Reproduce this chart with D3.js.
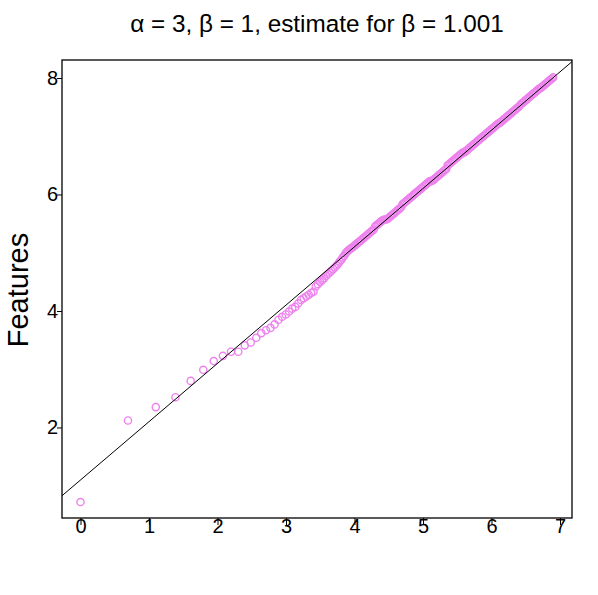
<!DOCTYPE html>
<html>
<head>
<meta charset="utf-8">
<script src="https://cdn.jsdelivr.net/npm/d3@7"></script>
<style>
  body { margin: 0; background: #fff; }
  text { font-family: "Liberation Sans", Arial, sans-serif; }
</style>
</head>
<body>
<div id="chart"></div>
<script>
// log(observations) on x, log(features) on y
const logObs = [
  0, 0.693, 1.099, 1.386, 1.609, 1.792, 1.946, 2.079, 2.197, 2.303,
  2.398, 2.485, 2.565, 2.639, 2.708, 2.773, 2.833, 2.890, 2.944, 2.996,
  3.045, 3.091, 3.135, 3.178, 3.219, 3.258, 3.296, 3.332, 3.367, 3.401,
  3.434, 3.466, 3.497, 3.526, 3.555, 3.584, 3.611, 3.638, 3.664, 3.689,
  3.714, 3.738, 3.761, 3.784, 3.807, 3.829, 3.850, 3.871, 3.892, 3.912,
  3.932, 3.951, 3.970, 3.989, 4.007,
  4.02, 4.04, 4.06, 4.08, 4.10, 4.12, 4.14, 4.16, 4.18, 4.20,
  4.22, 4.24, 4.26, 4.28, 4.30, 4.32, 4.34, 4.36, 4.38, 4.40,
  4.42, 4.44, 4.46, 4.48, 4.50, 4.52, 4.54, 4.56, 4.58, 4.60,
  4.62, 4.64, 4.66, 4.68, 4.70, 4.72, 4.74, 4.76, 4.78, 4.80,
  4.82, 4.84, 4.86, 4.88, 4.90, 4.92, 4.94, 4.96, 4.98, 5.00,
  5.02, 5.04, 5.06, 5.08, 5.10, 5.12, 5.14, 5.16, 5.18, 5.20,
  5.22, 5.24, 5.26, 5.28, 5.30, 5.32, 5.34, 5.36, 5.38, 5.40,
  5.42, 5.44, 5.46, 5.48, 5.50, 5.52, 5.54, 5.56, 5.58, 5.60,
  5.62, 5.64, 5.66, 5.68, 5.70, 5.72, 5.74, 5.76, 5.78, 5.80,
  5.82, 5.84, 5.86, 5.88, 5.90, 5.92, 5.94, 5.96, 5.98, 6.00,
  6.02, 6.04, 6.06, 6.08, 6.10, 6.12, 6.14, 6.16, 6.18, 6.20,
  6.22, 6.24, 6.26, 6.28, 6.30, 6.32, 6.34, 6.36, 6.38, 6.40,
  6.42, 6.44, 6.46, 6.48, 6.50, 6.52, 6.54, 6.56, 6.58, 6.60,
  6.62, 6.64, 6.66, 6.68, 6.70, 6.72, 6.74, 6.76, 6.78, 6.80,
  6.82, 6.84, 6.86, 6.88, 6.90
];
const logFeatures = [
  0.72, 2.12, 2.35, 2.52, 2.80, 2.99, 3.14, 3.23, 3.30, 3.30,
  3.41, 3.46, 3.54, 3.62, 3.67, 3.71, 3.77, 3.85, 3.90, 3.94,
  3.99, 4.04, 4.07, 4.13, 4.19, 4.22, 4.25, 4.28, 4.31, 4.33,
  4.42, 4.46, 4.50, 4.53, 4.56, 4.60, 4.63, 4.66, 4.69, 4.72,
  4.75, 4.78, 4.81, 4.85, 4.88, 4.92, 4.95, 4.99, 5.02, 5.04,
  5.06, 5.08, 5.09, 5.11, 5.13,
  5.14, 5.16, 5.18, 5.20, 5.22, 5.24, 5.26, 5.28, 5.30, 5.32,
  5.34, 5.36, 5.38, 5.40, 5.45, 5.47, 5.49, 5.51, 5.53, 5.55,
  5.56, 5.57, 5.57, 5.58, 5.60, 5.62, 5.64, 5.66, 5.68, 5.70,
  5.72, 5.74, 5.76, 5.78, 5.83, 5.85, 5.87, 5.89, 5.91, 5.93,
  5.95, 5.97, 5.99, 6.01, 6.03, 6.05, 6.07, 6.09, 6.11, 6.13,
  6.15, 6.17, 6.19, 6.21, 6.23, 6.23, 6.24, 6.26, 6.28, 6.30,
  6.32, 6.34, 6.36, 6.38, 6.40, 6.42, 6.44, 6.50, 6.52, 6.54,
  6.56, 6.58, 6.60, 6.62, 6.64, 6.66, 6.68, 6.70, 6.72, 6.72,
  6.74, 6.76, 6.78, 6.80, 6.82, 6.84, 6.86, 6.88, 6.90, 6.92,
  6.94, 6.96, 6.98, 7.00, 7.02, 7.04, 7.06, 7.08, 7.10, 7.12,
  7.14, 7.16, 7.18, 7.20, 7.22, 7.23, 7.25, 7.27, 7.29, 7.31,
  7.33, 7.35, 7.37, 7.39, 7.41, 7.43, 7.45, 7.47, 7.49, 7.51,
  7.54, 7.56, 7.58, 7.60, 7.62, 7.64, 7.66, 7.68, 7.70, 7.72,
  7.74, 7.76, 7.78, 7.80, 7.82, 7.83, 7.85, 7.87, 7.89, 7.91,
  7.93, 7.95, 7.97, 7.99, 8.01
];
const xTicks = [0, 1, 2, 3, 4, 5, 6, 7];
const yTicks = [2, 4, 6, 8];
// fitted line: log(alpha) + beta * x
const refIntercept = 1.0986;
const refSlope = 1.001;
const titleText = "\u03b1 = 3, \u03b2 = 1, estimate for \u03b2 = 1.001";
const yLabel = "Features";

const W = 598, H = 595;
const plot = { left: 62, right: 572, top: 60, bottom: 518 };

const svg = d3.select("#chart").append("svg")
  .attr("width", W).attr("height", H);

svg.append("rect").attr("width", W).attr("height", H).attr("fill", "#fff");

const x = d3.scaleLinear().domain([-0.27, 7.175]).range([plot.left, plot.right]);
const y = d3.scaleLinear().domain([0.446, 8.309]).range([plot.bottom, plot.top]);

svg.append("clipPath").attr("id", "clip")
  .append("rect")
  .attr("x", plot.left).attr("y", plot.top)
  .attr("width", plot.right - plot.left).attr("height", plot.bottom - plot.top);

// points
const pts = logObs.map((v, i) => ({ x: v, y: logFeatures[i] }));
svg.append("g")
  .selectAll("circle")
  .data(pts)
  .enter()
  .append("circle")
  .attr("cx", d => x(d.x))
  .attr("cy", d => y(d.y))
  .attr("r", 3.6)
  .attr("fill", "none")
  .attr("stroke", "#ee82ee")
  .attr("stroke-width", 1.4);

// reference line
const [x0, x1] = x.domain();
svg.append("line")
  .attr("clip-path", "url(#clip)")
  .attr("x1", x(x0)).attr("y1", y(refIntercept + refSlope * x0))
  .attr("x2", x(x1)).attr("y2", y(refIntercept + refSlope * x1))
  .attr("stroke", "#000")
  .attr("stroke-width", 1);

// box
svg.append("rect")
  .attr("x", plot.left).attr("y", plot.top)
  .attr("width", plot.right - plot.left).attr("height", plot.bottom - plot.top)
  .attr("fill", "none").attr("stroke", "#000").attr("stroke-width", 1.3);

// x axis
const xAxis = svg.append("g")
  .attr("transform", `translate(0,${plot.bottom})`)
  .call(d3.axisBottom(x).tickValues(xTicks).tickSize(7).tickPadding(-6).tickFormat(d3.format("d")))
  .call(g => g.select(".domain").remove());
xAxis.selectAll(".tick line").attr("stroke", "#000");
xAxis.selectAll(".tick text")
  .attr("fill", "#000")
  .attr("font-size", 20)
  .attr("font-family", "Liberation Sans, Arial, sans-serif");

// y axis
const yAxis = svg.append("g")
  .attr("transform", `translate(${plot.left},0)`)
  .call(d3.axisLeft(y).tickValues(yTicks).tickSize(5).tickPadding(-1).tickFormat(d3.format("d")))
  .call(g => g.select(".domain").remove());
yAxis.selectAll(".tick line").attr("stroke", "#000");
yAxis.selectAll(".tick text")
  .attr("fill", "#000")
  .attr("font-size", 20)
  .attr("font-family", "Liberation Sans, Arial, sans-serif");

// title
svg.append("text")
  .attr("x", (plot.left + plot.right) / 2)
  .attr("y", 32)
  .attr("text-anchor", "middle")
  .attr("font-size", 24.3)
  .attr("fill", "#000")
  .text(titleText);

// y label
svg.append("text")
  .attr("transform", `translate(28,${(plot.top + plot.bottom) / 2 + 1}) rotate(-90)`)
  .attr("text-anchor", "middle")
  .attr("font-size", 29)
  .attr("fill", "#000")
  .text(yLabel);
</script>
</body>
</html>
